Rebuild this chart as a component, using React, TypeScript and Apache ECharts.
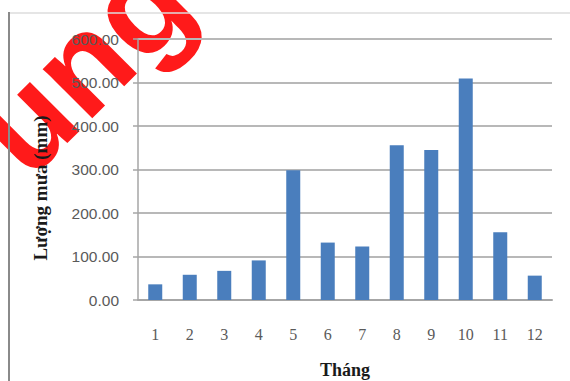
import React, { useEffect, useRef } from "react";
import * as echarts from "echarts";

// Monthly rainfall (mm)
const months: string[] = ["1", "2", "3", "4", "5", "6", "7", "8", "9", "10", "11", "12"];
const rainfall: number[] = [36, 58, 67, 91, 298, 132, 123, 356, 345, 509, 156, 56];
const yTicks: number[] = [0, 100, 200, 300, 400, 500, 600];

const xTitle = "Tháng";
const yTitle = "Lượng mưa (mm)";
const stamp = "ung";

export default function App() {
  const ref = useRef<HTMLDivElement | null>(null);

  useEffect(() => {
    if (!ref.current) return;
    const chart = echarts.init(ref.current, null, { renderer: "svg" });
    const yMax = yTicks[yTicks.length - 1];
    const yStep = yTicks[1] - yTicks[0];

    chart.setOption({
      animation: false,
      backgroundColor: "#ffffff",
      grid: { left: 138, right: 18, top: 39, bottom: 81, containLabel: false },
      xAxis: {
        type: "category",
        data: months,
        axisLine: { show: true, lineStyle: { color: "#a6a6a6", width: 2 } },
        axisTick: { show: false },
        axisLabel: {
          margin: 26,
          color: "#5a5a5a",
          fontFamily: "Liberation Serif",
          fontSize: 16,
        },
      },
      yAxis: {
        type: "value",
        min: yTicks[0],
        max: yMax,
        interval: yStep,
        axisLine: { show: true, lineStyle: { color: "#a6a6a6", width: 1.5 } },
        axisTick: { show: true, length: 5, lineStyle: { color: "#a6a6a6", width: 1.5 } },
        splitLine: { show: true, lineStyle: { color: "#b8b8b8", width: 2 } },
        axisLabel: {
          margin: 19,
          color: "#5a5a5a",
          fontFamily: "Liberation Sans",
          fontSize: 15.5,
          formatter: (v: number) => v.toFixed(2),
        },
      },
      series: [
        {
          type: "bar",
          data: rainfall,
          barWidth: 14,
          itemStyle: { color: "#4a7ebd" },
        },
      ],
      graphic: [
        // watermark, kept behind the chart
        {
          type: "text",
          x: 82,
          y: 64,
          rotation: (45 * Math.PI) / 180,
          z: -10,
          style: {
            text: stamp,
            fontFamily: "Liberation Sans",
            fontWeight: "bold",
            fontSize: 132,
            fill: "#ff1a1a",
            stroke: "#ffffff",
            lineWidth: 4,
            align: "center",
            verticalAlign: "middle",
          },
        },
        // page frame
        {
          type: "line",
          shape: { x1: 9, y1: 13, x2: 570, y2: 13 },
          style: { stroke: "#dcdcdc", lineWidth: 1.5 },
          z: 1,
        },
        {
          type: "line",
          shape: { x1: 9, y1: 12, x2: 9, y2: 381 },
          style: { stroke: "#8a8a8a", lineWidth: 2 },
          z: 1,
        },
        {
          type: "text",
          x: 345,
          y: 370,
          style: {
            text: xTitle,
            fontFamily: "Liberation Serif",
            fontWeight: "bold",
            fontSize: 18,
            fill: "#1a1a1a",
            align: "center",
            verticalAlign: "middle",
          },
        },
        {
          type: "text",
          x: 40,
          y: 188,
          rotation: Math.PI / 2,
          style: {
            text: yTitle,
            fontFamily: "Liberation Serif",
            fontWeight: "bold",
            fontSize: 19,
            fill: "#1a1a1a",
            align: "center",
            verticalAlign: "middle",
          },
        },
      ],
    });
    return () => chart.dispose();
  }, []);

  return (
    <div
      ref={ref}
      style={{ position: "absolute", left: 0, top: 0, width: 570, height: 381 }}
    />
  );
}
